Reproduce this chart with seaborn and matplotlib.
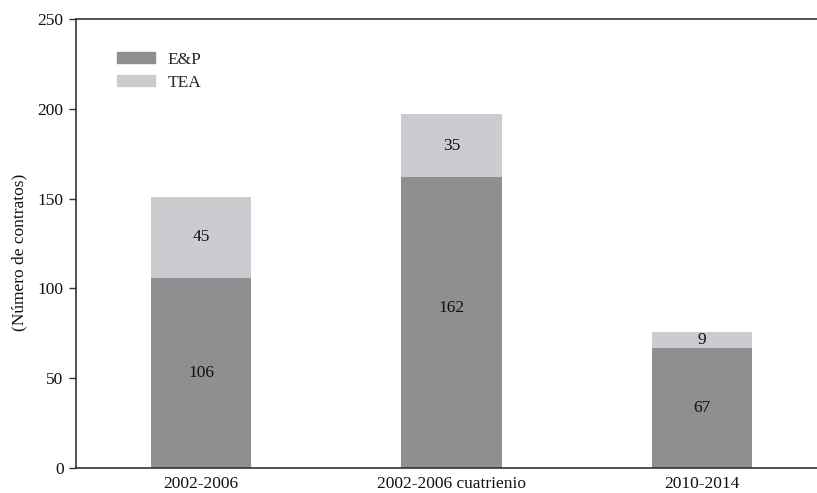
import matplotlib
matplotlib.use("Agg")
import matplotlib.pyplot as plt
import matplotlib.patches as mpatches
import seaborn as sns
import pandas as pd

periods = ["2002-2006", "2002-2006 cuatrienio", "2010-2014"]
ep_values = [106, 162, 67]
tea_values = [45, 35, 9]
ytick_values = [0, 50, 100, 150, 200, 250]

ep_color = "#8e8f91"
tea_color = "#cbcccf"
text_color = "#111111"
fs = 12.5

# vertical placement of the E&P labels, as a fraction of the segment height
ep_label_frac = [0.5, 0.55, 0.5]

sns.set_theme(style="white")
plt.rcParams["font.family"] = ["Liberation Serif", "DejaVu Serif"]
plt.rcParams["font.size"] = fs

df = pd.DataFrame({"periodo": periods, "EP": ep_values, "TEA": tea_values})

fig = plt.figure(figsize=(8.17, 4.93), dpi=100)
ax = fig.add_axes([76 / 817, 25 / 493, 751 / 817, 449 / 493])

sns.barplot(data=df, x="periodo", y="EP", color=ep_color, width=0.4,
            saturation=1, ax=ax, linewidth=0)
sns.barplot(data=df, x="periodo", y="TEA", color=tea_color, width=0.4,
            saturation=1, ax=ax, linewidth=0, bottom=df["EP"])

# value labels inside each segment
for i, (ep, tea, frac) in enumerate(zip(ep_values, tea_values, ep_label_frac)):
    ax.text(i, ep * frac, str(ep), ha="center", va="center", fontsize=fs, color=text_color)
    ax.text(i, ep + tea / 2, str(tea), ha="center", va="center", fontsize=fs, color=text_color)

ax.set_xlim(-0.5, 2.5)
ax.set_ylim(0, 250)
ax.set_yticks(ytick_values)
ax.set_xticks([0, 1, 2])
ax.set_xticklabels(periods)
ax.set_xticks([0.5, 1.5], minor=True)
ax.tick_params(axis="x", which="major", length=0, pad=6, labelsize=fs, colors=text_color)
ax.tick_params(axis="x", which="minor", length=5, width=1, color="#333333", direction="out")
ax.tick_params(axis="y", length=5, width=1, color="#333333", direction="out",
               left=True, labelsize=fs, labelcolor=text_color, pad=4)
ax.set_xlabel("")
ax.set_ylabel("(Número de contratos)", fontsize=fs, color=text_color)
ax.yaxis.set_label_coords(-0.065, 0.481)

for side in ["left", "bottom", "top"]:
    ax.spines[side].set_visible(True)
    ax.spines[side].set_color("#333333")
    ax.spines[side].set_linewidth(1.2)
ax.spines["right"].set_visible(False)

handles = [mpatches.Patch(color=ep_color, label="E&P"),
           mpatches.Patch(color=tea_color, label="TEA")]
ax.legend(handles=handles, loc="upper left", bbox_to_anchor=(117 / 817, 1 - 52 / 493),
          bbox_transform=fig.transFigure, frameon=False, fontsize=fs,
          handlelength=2.2, handleheight=0.6, handletextpad=0.7, labelspacing=0.4,
          borderaxespad=0, borderpad=0)

fig.savefig("out.png", dpi=100)
